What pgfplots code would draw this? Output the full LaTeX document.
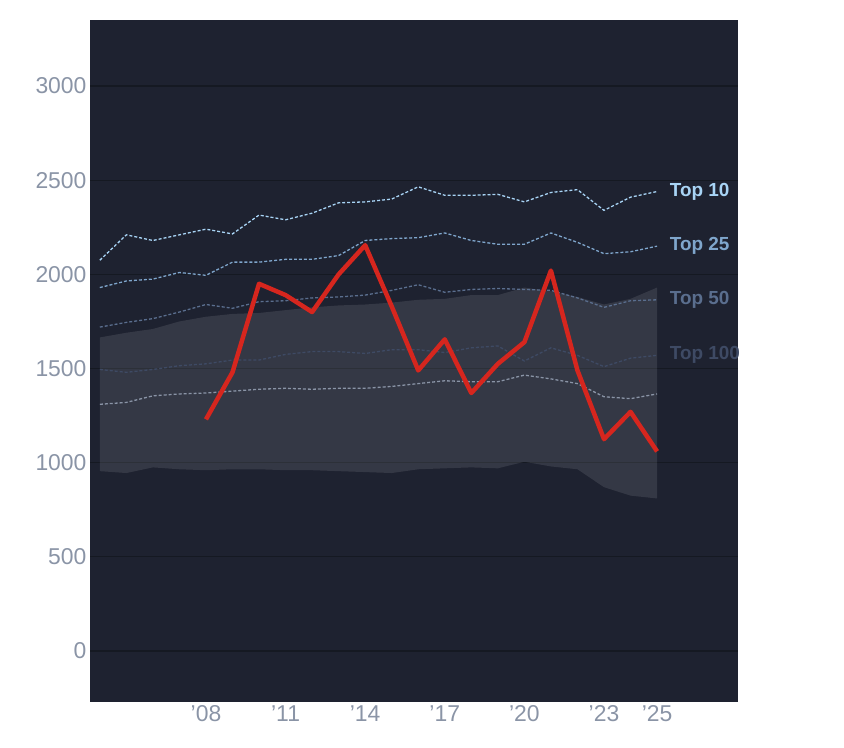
\documentclass[border=0pt]{standalone}
\usepackage{pgfplots}
\pgfplotsset{compat=1.18}
\usepgfplotslibrary{fillbetween}
\usepackage{fontspec}
\setmainfont{Liberation Sans}
\definecolor{bg}{HTML}{1E2230}
\definecolor{gridc}{HTML}{151922}
\definecolor{tk}{HTML}{8A94A6}
\definecolor{tten}{HTML}{A8D4F5}
\definecolor{ttf}{HTML}{7FA6CC}
\definecolor{tfifty}{HTML}{5A6E8E}
\definecolor{thund}{HTML}{3E4A64}
\begin{document}
\begin{tikzpicture}
\begin{axis}[at={(0,0)},scale only axis,width=648bp,height=682bp,
 xmin=2003.63,xmax=2028.05,ymin=-271,ymax=3351,
 axis background/.style={fill=bg},axis line style={draw=none},
 xtick={2008,2011,2014,2017,2020,2023,2025},
 xticklabels={'08,'11,'14,'17,'20,'23,'25},
 ytick={0,500,1000,1500,2000,2500,3000},
 ymajorgrids,grid style={gridc,line width=1.2pt},
 major tick length=0pt,
 tick label style={tk,font=\fontsize{23}{26}\selectfont},
 /pgf/number format/assume math mode=true,
 /pgf/number format/1000 sep={},
 clip=false]
\addplot[name path=up,draw=none] coordinates {(2004,1665)(2005,1690)(2006,1710)(2007,1750)(2008,1775)(2009,1790)(2010,1795)(2011,1810)(2012,1825)(2013,1835)(2014,1840)(2015,1850)(2016,1865)(2017,1870)(2018,1890)(2019,1890)(2020,1930)(2021,1910)(2022,1880)(2023,1840)(2024,1870)(2025,1930)};
\addplot[name path=lo,draw=none] coordinates {(2004,955)(2005,945)(2006,975)(2007,965)(2008,960)(2009,965)(2010,965)(2011,960)(2012,960)(2013,955)(2014,950)(2015,945)(2016,965)(2017,970)(2018,975)(2019,970)(2020,1005)(2021,980)(2022,965)(2023,870)(2024,825)(2025,810)};
\addplot[fill=white,fill opacity=0.1,draw=none] fill between[of=up and lo];
\addplot[densely dashed,line width=1.3pt,color=tk] coordinates {(2004,1310)(2005,1320)(2006,1355)(2007,1365)(2008,1370)(2009,1380)(2010,1390)(2011,1395)(2012,1390)(2013,1395)(2014,1395)(2015,1405)(2016,1420)(2017,1435)(2018,1430)(2019,1430)(2020,1465)(2021,1445)(2022,1420)(2023,1350)(2024,1340)(2025,1365)};
\addplot[densely dashed,line width=1.3pt,color=thund] coordinates {(2004,1495)(2005,1480)(2006,1495)(2007,1515)(2008,1525)(2009,1545)(2010,1545)(2011,1575)(2012,1590)(2013,1590)(2014,1580)(2015,1600)(2016,1600)(2017,1585)(2018,1610)(2019,1620)(2020,1540)(2021,1610)(2022,1570)(2023,1510)(2024,1555)(2025,1570)};
\addplot[densely dashed,line width=1.3pt,color=tfifty] coordinates {(2004,1720)(2005,1745)(2006,1765)(2007,1800)(2008,1840)(2009,1820)(2010,1855)(2011,1860)(2012,1875)(2013,1880)(2014,1890)(2015,1915)(2016,1945)(2017,1905)(2018,1920)(2019,1925)(2020,1920)(2021,1915)(2022,1875)(2023,1825)(2024,1860)(2025,1865)};
\addplot[densely dashed,line width=1.3pt,color=ttf] coordinates {(2004,1930)(2005,1965)(2006,1975)(2007,2010)(2008,1995)(2009,2065)(2010,2065)(2011,2080)(2012,2080)(2013,2100)(2014,2180)(2015,2190)(2016,2195)(2017,2220)(2018,2180)(2019,2160)(2020,2160)(2021,2220)(2022,2170)(2023,2110)(2024,2120)(2025,2150)};
\addplot[densely dashed,line width=1.3pt,color=tten] coordinates {(2004,2075)(2005,2210)(2006,2180)(2007,2210)(2008,2240)(2009,2215)(2010,2315)(2011,2290)(2012,2325)(2013,2380)(2014,2385)(2015,2400)(2016,2465)(2017,2420)(2018,2420)(2019,2425)(2020,2385)(2021,2435)(2022,2450)(2023,2340)(2024,2410)(2025,2440)};
\addplot[line width=4.5pt,color={rgb,255:red,214;green,38;blue,30},line join=round] coordinates {(2008,1230)(2009,1480)(2010,1950)(2011,1890)(2012,1800)(2013,2000)(2014,2155)(2015,1830)(2016,1490)(2017,1655)(2018,1370)(2019,1525)(2020,1640)(2021,2020)(2022,1490)(2023,1125)(2024,1270)(2025,1060)};
\begin{scope}[every node/.style={anchor=west,font=\bfseries\fontsize{19}{22}\selectfont}]
\node[tten] at (axis cs:2025.35,2440) {Top 10};
\node[ttf] at (axis cs:2025.35,2150) {Top 25};
\node[tfifty] at (axis cs:2025.35,1865) {Top 50};
\node[thund] at (axis cs:2025.35,1570) {Top 100};
\end{scope}
\end{axis}
\path[use as bounding box] (-90bp,-46bp) rectangle (754bp,702bp);
\end{tikzpicture}
\end{document}
